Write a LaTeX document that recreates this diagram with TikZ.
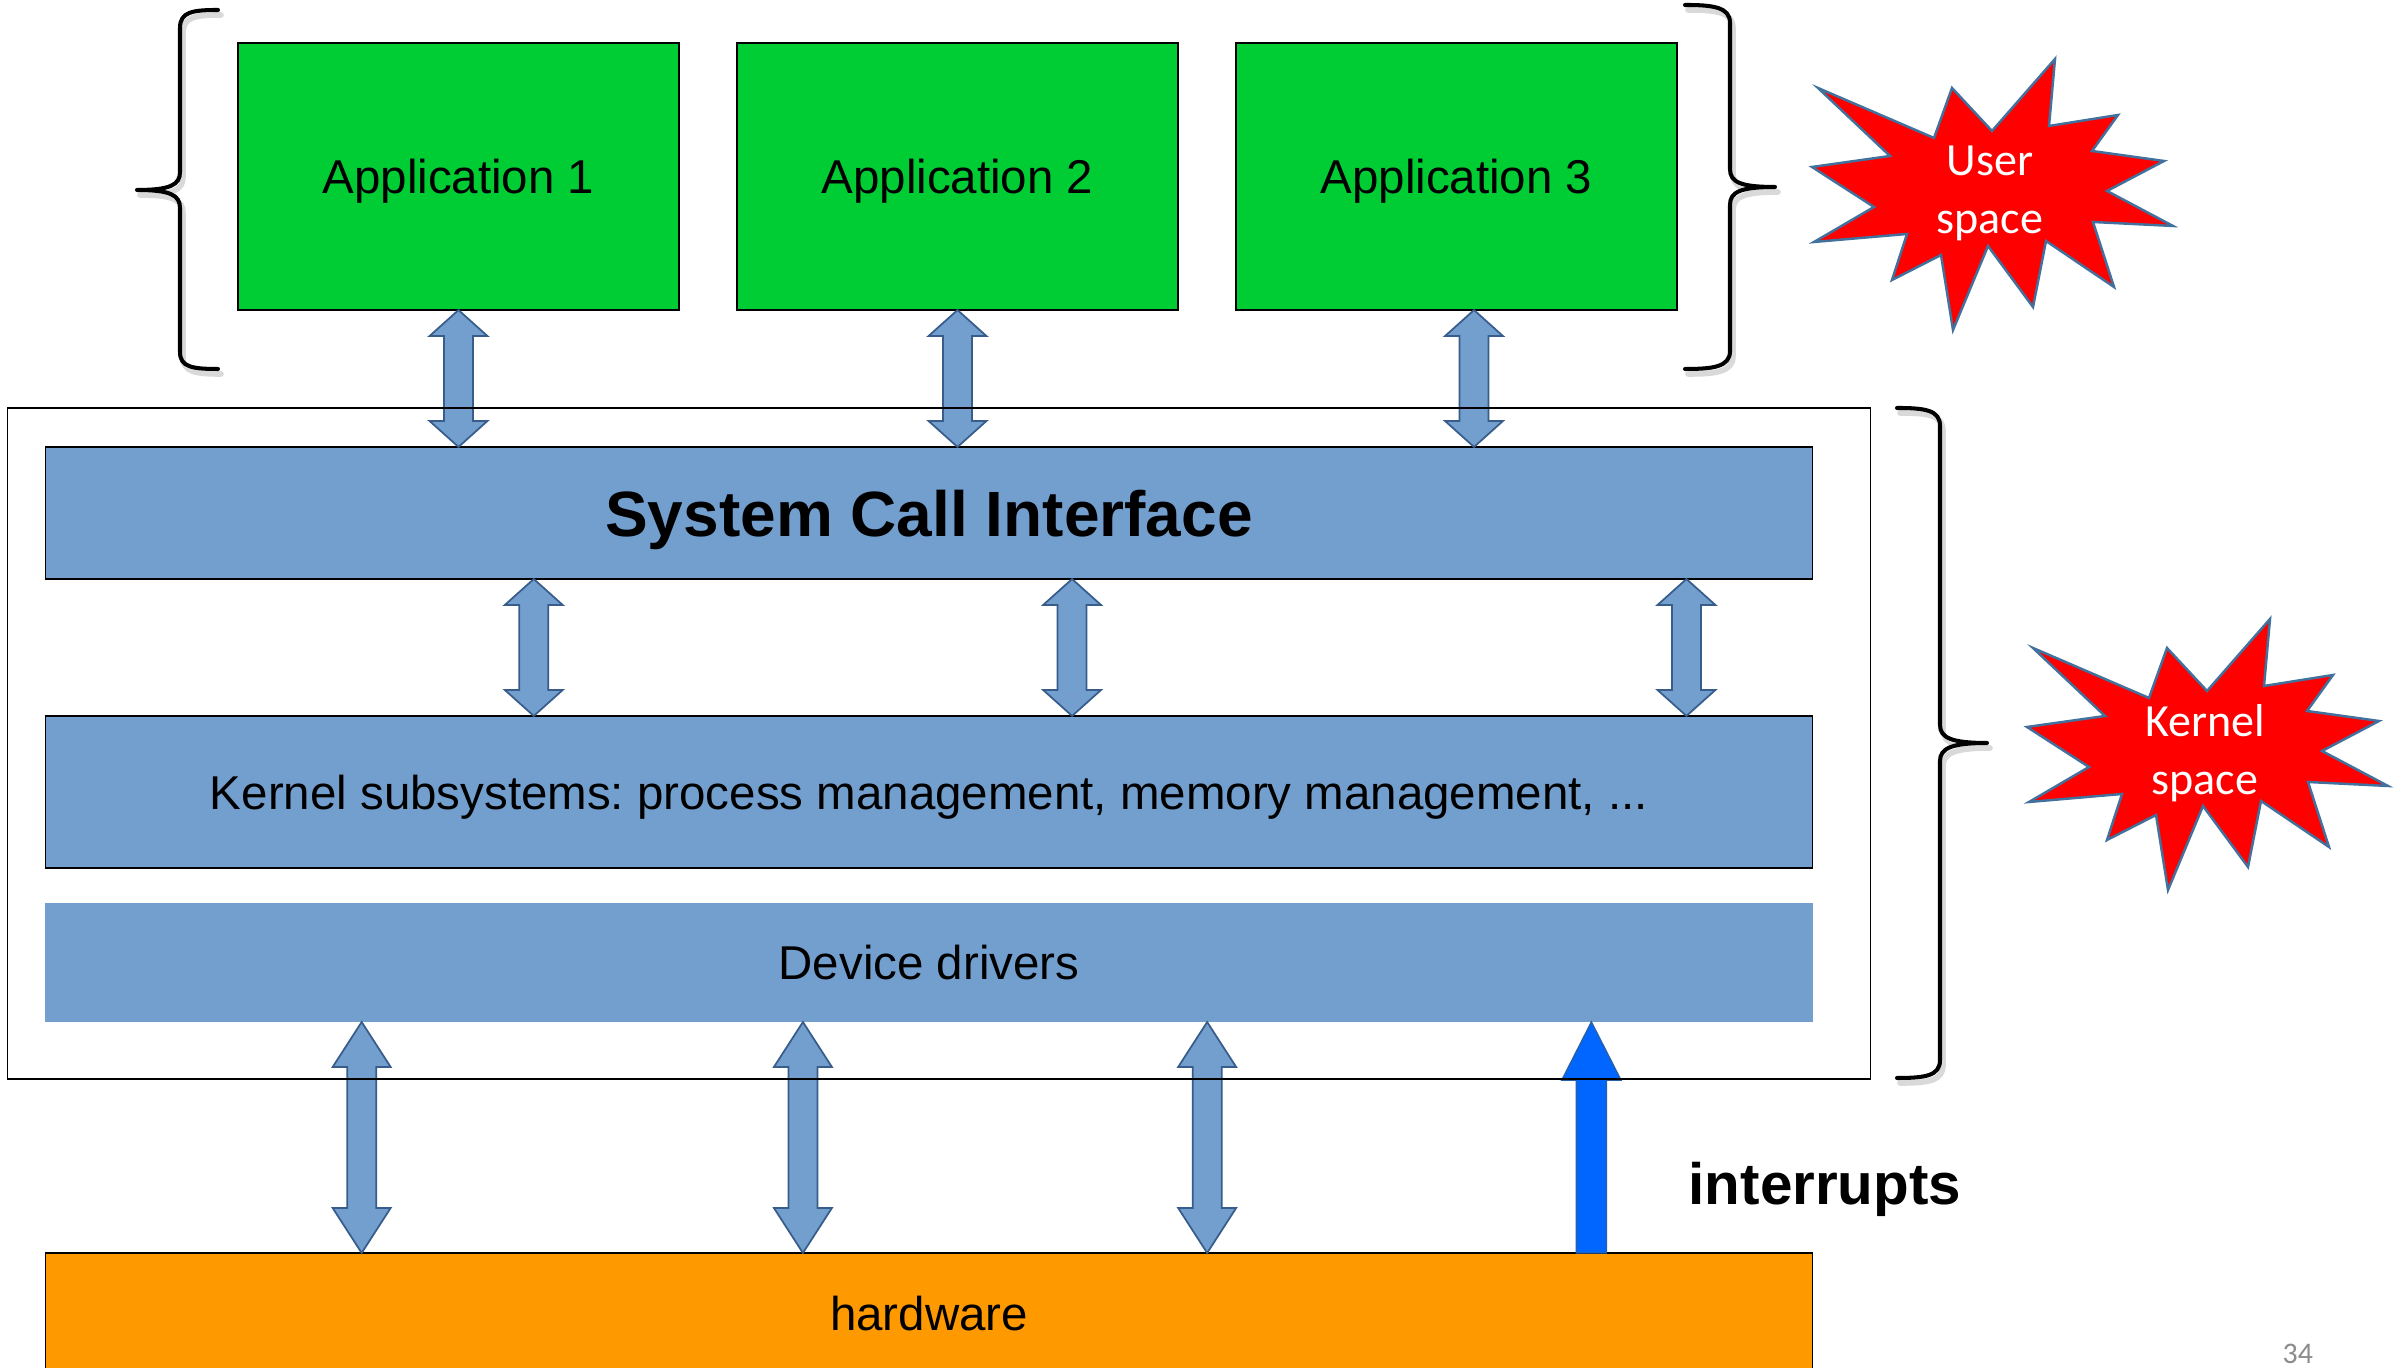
\documentclass[tikz,border=0pt]{standalone}
\usepackage{fontspec}
\setmainfont{Liberation Sans}
\newfontfamily\calib{Carlito}
\usetikzlibrary{calc}
\frenchspacing
\definecolor{boxblue}{RGB}{115,159,207}
\definecolor{arrline}{RGB}{56,93,138}
\definecolor{appgreen}{RGB}{0,204,51}
\definecolor{hworange}{RGB}{255,153,0}
\definecolor{irqblue}{RGB}{0,102,255}
\definecolor{starline}{RGB}{65,113,156}
\tikzset{
  box/.style={draw=black, line width=0.5pt, inner sep=0pt, outer sep=0pt, text depth=0pt, font=\fontsize{13.5}{16}\selectfont},
  appbox/.style={box, fill=appgreen, minimum width=4.41cm, minimum height=2.67cm},
  layer/.style={box, fill=boxblue, minimum width=17.66cm},
  dblarr/.style={draw=arrline, fill=boxblue, line width=0.5pt, line join=miter,
    to path={let \p1=(\tikztostart), \p2=(\tikztotarget) in
      (\x1,\y1) -- ({\x1+8.25pt},{\y1-#1}) -- ({\x1+4.13pt},{\y1-#1}) -- ({\x1+4.13pt},{\y2+#1})
      -- ({\x1+8.25pt},{\y2+#1}) -- (\x1,\y2) -- ({\x1-8.25pt},{\y2+#1}) -- ({\x1-4.13pt},{\y2+#1})
      -- ({\x1-4.13pt},{\y1-#1}) -- ({\x1-8.25pt},{\y1-#1}) -- cycle}},
  irqarr/.style={draw=arrline!70!irqblue, fill=irqblue, line width=0.4pt, line join=miter,
    to path={let \p1=(\tikztostart), \p2=(\tikztotarget) in
      ({\x1-4.27pt},\y1) -- ({\x1+4.27pt},\y1) -- ({\x1+4.27pt},{\y2-16.5pt}) -- ({\x1+8.4pt},{\y2-16.5pt})
      -- (\x1,\y2) -- ({\x1-8.4pt},{\y2-16.5pt}) -- ({\x1-4.27pt},{\y2-16.5pt}) -- cycle}},
  bracestyle/.style={line width=1.15pt, line cap=round, line join=round},
  braceshadow/.style={line width=1.6pt, draw=black!15, line cap=round, line join=round},
  starshape/.style={fill=red, draw=starline, line width=0.7pt, line join=miter},
  startext/.style={text=white, align=center, inner sep=0pt, font=\calib\fontsize{13.1}{16.5}\selectfont}
}
\begin{document}
\begin{tikzpicture}[x=0.01cm,y=-0.01cm]
\useasboundingbox (0,0) rectangle (2408,1368);
\fill[white] (0,0) rectangle (2408,1368);

% applications
\node[appbox] (a1) at (458.5,176.5) {Application 1};
\node[appbox] (a2) at (957.5,176.5) {Application 2};
\node[appbox] (a3) at (1456.5,176.5) {Application 3};

% kernel frame (drawn at the end)
\node[inner sep=0pt, outer sep=0pt, minimum width=18.62cm, minimum height=6.71cm] (kbox) at (939,743.5) {};

% layers
\node[layer, minimum height=1.32cm, font=\bfseries\fontsize{18.2}{22}\selectfont] (sci) at (929,513) {System Call Interface};
\node[layer, minimum height=1.52cm] (ks) at (929,792) {Kernel subsystems: process management, memory management, ...};
\node[layer, draw=none, minimum height=1.19cm] (dd) at (929,962.5) {Device drivers};
\node[layer, fill=hworange, minimum height=1.2cm] (hw) at (929,1313) {hardware};

% arrows
\draw[dblarr=7.4pt] (a1.south) to (sci.north);
\draw[dblarr=7.4pt] (a2.south) to (sci.north);
\draw[dblarr=7.4pt] ([xshift=0.175cm]a3.south) to (sci.north);
\draw[dblarr=7.4pt] ([xshift=4.88cm]sci.south west) to (ks.north);
\draw[dblarr=7.4pt] ([xshift=10.26cm]sci.south west) to (ks.north);
\draw[dblarr=7.4pt] ([xshift=16.40cm]sci.south west) to (ks.north);
\draw[dblarr=12.8pt] ([xshift=3.16cm]dd.south west) to (hw.north);
\draw[dblarr=12.8pt] ([xshift=7.57cm]dd.south west) to (hw.north);
\draw[dblarr=12.8pt] ([xshift=11.61cm]dd.south west) to (hw.north);
\draw[irqarr] ([xshift=15.45cm]hw.north west) to (dd.south);

\draw[line width=0.5pt] (kbox.north west) rectangle (kbox.south east);

\node[anchor=base west, inner sep=0pt, font=\bfseries\fontsize{16.6}{20}\selectfont] (irq) at (1688,1205) {interrupts};

% braces (shadows)
\begin{scope}[shift={(3,5)}]
\draw[braceshadow] (218,10) .. controls (192,10) and (180,12) .. (180,28) -- (180,172)
  .. controls (180,185) and (170,190) .. (137,190) .. controls (170,190) and (180,195) .. (180,208)
  -- (180,352) .. controls (180,367) and (192,369) .. (218,369);
\draw[braceshadow] (1685,5) .. controls (1713,5) and (1730,7) .. (1730,23) -- (1730,169)
  .. controls (1730,182) and (1740,187) .. (1775,187) .. controls (1740,187) and (1730,192) .. (1730,205)
  -- (1730,351) .. controls (1730,367) and (1713,369) .. (1685,369);
\draw[braceshadow] (1897,408) .. controls (1925,408) and (1940,410) .. (1940,426) -- (1940,725)
  .. controls (1940,738) and (1952,743) .. (1987,743) .. controls (1952,743) and (1940,748) .. (1940,761)
  -- (1940,1060) .. controls (1940,1076) and (1925,1078) .. (1897,1078);
\end{scope}
% braces
\draw[bracestyle] (218,10) .. controls (192,10) and (180,12) .. (180,28) -- (180,172)
  .. controls (180,185) and (170,190) .. (137,190) .. controls (170,190) and (180,195) .. (180,208)
  -- (180,352) .. controls (180,367) and (192,369) .. (218,369);
\draw[bracestyle] (1685,5) .. controls (1713,5) and (1730,7) .. (1730,23) -- (1730,169)
  .. controls (1730,182) and (1740,187) .. (1775,187) .. controls (1740,187) and (1730,192) .. (1730,205)
  -- (1730,351) .. controls (1730,367) and (1713,369) .. (1685,369);
\draw[bracestyle] (1897,408) .. controls (1925,408) and (1940,410) .. (1940,426) -- (1940,725)
  .. controls (1940,738) and (1952,743) .. (1987,743) .. controls (1952,743) and (1940,748) .. (1940,761)
  -- (1940,1060) .. controls (1940,1076) and (1925,1078) .. (1897,1078);

% stars
\draw[starshape] (1818,88) -- (1890,156) -- (1812,167) -- (1874,207) -- (1814,242) -- (1907,234)
  -- (1892,280) -- (1941,255) -- (1953,330) -- (1988,246) -- (2033,307) -- (2046,241) -- (2114,287)
  -- (2093,222) -- (2173,226) -- (2107,191) -- (2164,161) -- (2092,151) -- (2118,115) -- (2049,126)
  -- (2055,59) -- (1992,131) -- (1952,88) -- (1934,138) -- cycle;
\node[startext] (us) at (1990,193) {User\\space};
\begin{scope}[shift={(215,560)}]
\draw[starshape] (1818,88) -- (1890,156) -- (1812,167) -- (1874,207) -- (1814,242) -- (1907,234)
  -- (1892,280) -- (1941,255) -- (1953,330) -- (1988,246) -- (2033,307) -- (2046,241) -- (2114,287)
  -- (2093,222) -- (2173,226) -- (2107,191) -- (2164,161) -- (2092,151) -- (2118,115) -- (2049,126)
  -- (2055,59) -- (1992,131) -- (1952,88) -- (1934,138) -- cycle;
\end{scope}
\node[startext] (ksp) at (2205,753) {Kernel\\space};

% page number
\node[anchor=base west, inner sep=0pt, text=black!45, font=\calib\fontsize{8.5}{10}\selectfont] (pg) at (2282,1364) {34};
\end{tikzpicture}
\end{document}
